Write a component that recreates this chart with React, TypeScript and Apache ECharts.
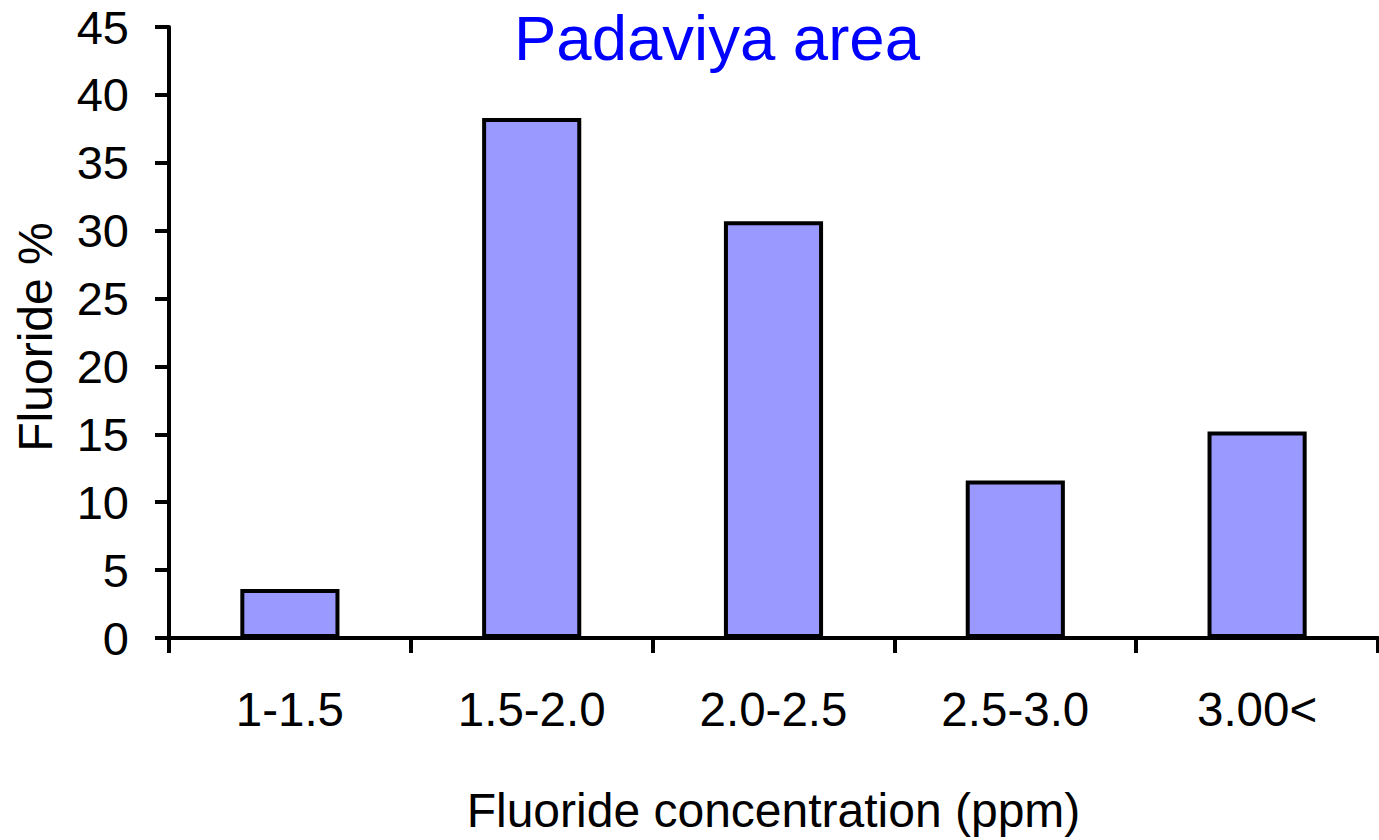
import React, { useEffect, useRef } from "react";
import * as echarts from "echarts";

const categories = ["1-1.5", "1.5-2.0", "2.0-2.5", "2.5-3.0", "3.00<"];
const fluoridePercent = [3.6, 38.3, 30.7, 11.6, 15.2];
const titleText = "Padaviya area";
const xAxisName = "Fluoride concentration (ppm)";
const yAxisName = "Fluoride %";

const FONT = "'Liberation Sans', Arial, sans-serif";

export default function App() {
  const ref = useRef<HTMLDivElement>(null);
  useEffect(() => {
    if (!ref.current) return;
    const chart = echarts.init(ref.current, null, { renderer: "svg" });
    chart.setOption({
      animation: false,
      backgroundColor: "#ffffff",
      textStyle: { fontFamily: FONT },
      title: {
        text: titleText,
        left: 509,
        top: 1,
        textStyle: { color: "#0000ff", fontSize: 63.5, fontWeight: "normal", fontFamily: FONT },
      },
      graphic: [
        {
          type: "text",
          x: 35,
          y: 337,
          rotation: Math.PI / 2,
          style: {
            text: yAxisName,
            fill: "#000",
            fontSize: 48,
            fontFamily: FONT,
            textAlign: "center",
            textVerticalAlign: "middle",
          },
        },
      ],
      grid: { left: 169, right: 1, top: 27, bottom: 202, containLabel: false },
      xAxis: {
        type: "category",
        data: categories,
        name: xAxisName,
        nameLocation: "middle",
        nameGap: 148,
        nameTextStyle: { color: "#000", fontSize: 48, fontFamily: FONT },
        axisLine: { lineStyle: { color: "#000", width: 4 } },
        axisTick: { show: true, length: 15, lineStyle: { color: "#000", width: 4 }, alignWithLabel: false },
        axisLabel: { color: "#000", fontSize: 47.5, margin: 47, fontFamily: FONT },
      },
      yAxis: {
        type: "value",
        min: 0,
        max: 45,
        interval: 5,
        axisLine: { show: true, lineStyle: { color: "#000", width: 4 } },
        axisTick: { show: true, length: 14, lineStyle: { color: "#000", width: 4 } },
        axisLabel: { color: "#000", fontSize: 47, margin: 40, fontFamily: FONT },
        splitLine: { show: false },
      },
      series: [
        {
          type: "bar",
          data: fluoridePercent,
          barCategoryGap: "59%",
          itemStyle: { color: "#9999ff", borderColor: "#000", borderWidth: 4 },
        },
      ],
    });
    return () => chart.dispose();
  }, []);
  return (
    <div
      ref={ref}
      style={{ position: "fixed", left: 0, top: 0, width: 1379, height: 840, background: "#fff" }}
    />
  );
}
